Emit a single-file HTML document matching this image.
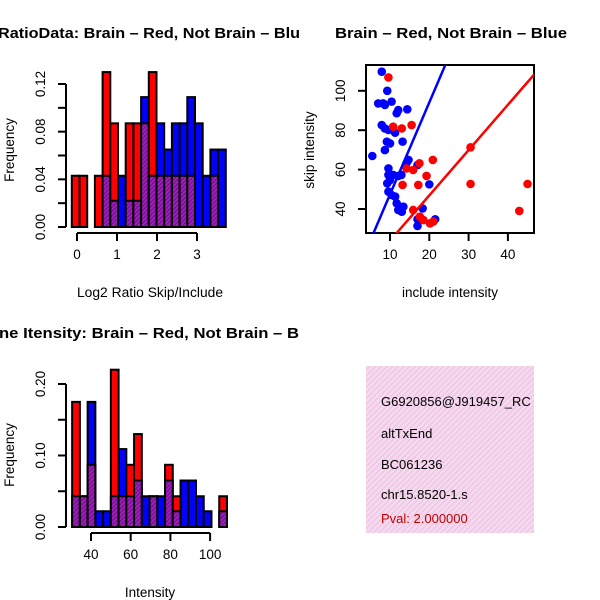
<!DOCTYPE html>
<html><head><meta charset="utf-8"><style>
html,body{margin:0;padding:0;background:#fff;}
svg{display:block;font-family:"Liberation Sans",sans-serif;}
</style></head><body>
<svg id="c" width="600" height="600" viewBox="0 0 600 600" xmlns="http://www.w3.org/2000/svg">
<defs>
<pattern id="hatch" width="3" height="3" patternUnits="userSpaceOnUse" patternTransform="rotate(45)">
<rect width="3" height="3" fill="#a020c0"/><rect width="1.4" height="3" fill="#7a1090"/>
</pattern>
<pattern id="pink" width="4" height="4" patternUnits="userSpaceOnUse" patternTransform="rotate(45)">
<rect width="4" height="4" fill="#f8d8f0"/><rect width="1.3" height="4" fill="#e8c8e0"/>
</pattern>
<clipPath id="scClip"><rect x="366" y="65" width="168" height="168"/></clipPath>
<clipPath id="pClip"><rect x="366" y="366" width="168" height="168"/></clipPath>
</defs>
<g id="g1"></g>
<g id="g2"></g>
<g id="g3"></g>
<g>
<rect x="366" y="366" width="168" height="167" fill="url(#pink)"/>
<g clip-path="url(#pClip)" font-size="13">
<text x="381" y="406">G6920856@J919457_RC</text>
<text x="381" y="438">altTxEnd</text>
<text x="381" y="469">BC061236</text>
<text x="381" y="499">chr15.8520-1.s</text>
<text x="381" y="523" fill="#c00000">Pval: 2.000000</text>
</g>
</g>
</svg>
<script>
// ---- Histogram 1: Log2 Ratio ----
const ratioBinStart = -0.13, ratioBinWidth = 0.1925;
const ratioRed  = [0.043,0.043,0,0.043,0.130,0.087,0,0.087,0.087,0.087,0.130,0.043,0.043,0.043,0.043,0.043,0,0,0.043,0];
const ratioBlue = [0,0,0,0,0.043,0.022,0.043,0.022,0.022,0.109,0.043,0.087,0.065,0.087,0.087,0.109,0.087,0.043,0.065,0.065];
const ratioYTicks = [0,0.02,0.04,0.06,0.08,0.10,0.12];
const ratioYLabels = ["0.00","","0.04","","0.08","","0.12"];
const ratioXTicks = [0,1,2,3];
// ---- Histogram 2: Intensity ----
const intBinStart = 30.5, intBinWidth = 3.9;
const intRed  = [0.175,0.043,0.087,0,0,0.22,0.043,0.087,0.13,0,0.043,0,0.087,0.043,0,0,0,0,0,0.043];
const intBlue = [0.043,0.043,0.175,0.022,0.022,0.043,0.109,0.043,0.065,0.043,0.043,0.043,0.065,0.022,0.065,0.065,0.043,0.022,0,0.022];
const intYTicks = [0,0.05,0.10,0.15,0.20];
const intYLabels = ["0.00","","0.10","","0.20"];
const intXTicks = [40,60,80,100];
// ---- Scatter ----
const blueX = [7.9,9.3,7.0,8.3,8.7,10.4,12.1,11.7,14.4,7.9,8.7,9.6,11.3,9.2,10,8.7,13.2,5.5,9.6,9.6,10,10.8,12.1,12.9,9.3,9.6,10.4,11.3,11.7,12.5,13.4,13,12.1,14.7,14.2,17,20,18.3,17,17,20.2,21.5];
const blueY = [109.7,100,93.6,93.6,92.8,94.5,90.2,88.6,90.6,82.6,80.9,80.1,78.7,74.2,73.3,69.9,74.2,66.9,60.6,57.3,54.7,57.3,56.8,57.3,53,48.8,47.1,46.3,42.9,41.2,41.2,38.6,39.5,64.9,63.2,62.3,52.5,40.3,34.8,31.4,32.7,34.8];
const redX = [9.6,10.8,13,15.5,14.2,15.9,17.5,20.9,19.3,13.2,17.2,30.5,30.5,45,42.9,15.9,17.6,18.5,20.2,21];
const redY = [106.8,81.8,80.9,82.6,60.6,59.8,63.2,64.9,56.8,52.2,52.2,71.3,52.7,52.7,39,39.5,36.1,34.4,32.7,33.6];
const blueFit = [0.7,4.67]; // intercept, slope
const redFit = [0.9,2.30];
const scXTicks = [10,20,30,40];
const scYTicks = [40,60,80,100];

const NS="http://www.w3.org/2000/svg";
function mk(parent,tag,attrs){const e=document.createElementNS(NS,tag);for(const k in attrs)e.setAttribute(k,attrs[k]);parent.appendChild(e);return e;}
function txt(parent,x,y,s,size,rot,anchor,weight,len){const t=mk(parent,'text',{x:x,y:y,'font-size':size,'text-anchor':anchor||'middle'});if(weight)t.setAttribute('font-weight',weight);if(len){t.setAttribute('textLength',len);t.setAttribute('lengthAdjust','spacingAndGlyphs');}if(rot)t.setAttribute('transform','rotate(-90 '+x+' '+y+')');t.textContent=s;return t;}

function hist(g,opt){
  const xs=v=>opt.x0px+(v-opt.x0)*opt.xk, ys=v=>opt.y0px-v*opt.yk;
  for(let i=0;i<opt.red.length;i++){
    const a=opt.binStart+i*opt.binW, b=a+opt.binW;
    const r=opt.red[i], bl=opt.blue[i];
    const x1=xs(a), w=xs(b)-xs(a);
    const mx=Math.max(r,bl), mn=Math.min(r,bl);
    if(mx<=0) continue;
    const top=mk(g,'rect',{x:x1,y:ys(mx),width:w,height:ys(0)-ys(mx),fill:r>bl?'#ff0000':'#0000ff',stroke:'#000','stroke-width':2});
    
    
    if(mn>0){
      const ov=mk(g,'rect',{x:x1,y:ys(mn),width:w,height:ys(0)-ys(mn),fill:'url(#hatch)',stroke:'#000','stroke-width':2});
      
      
    }
  }
  const ya=mk(g,'g',{});
  
  
  const yt=opt.yTicks;
  mk(ya,'line',{x1:opt.yAxisX,x2:opt.yAxisX,y1:ys(yt[0]),y2:ys(yt[yt.length-1]),stroke:'#000','stroke-width':2});
  yt.forEach((v,i)=>{mk(ya,'line',{x1:opt.yAxisX-8,x2:opt.yAxisX,y1:ys(v),y2:ys(v),stroke:'#000','stroke-width':2});
    if(opt.yLabels[i])txt(ya,opt.yAxisX-21,ys(v),opt.yLabels[i],13.5,true);});
  const xa=mk(g,'g',{});
  
  
  const xt=opt.xTicks;
  mk(xa,'line',{x1:xs(xt[0]),x2:xs(xt[xt.length-1]),y1:opt.xAxisY,y2:opt.xAxisY,stroke:'#000','stroke-width':2});
  xt.forEach(v=>{mk(xa,'line',{x1:xs(v),x2:xs(v),y1:opt.xAxisY,y2:opt.xAxisY+8,stroke:'#000','stroke-width':2});
    txt(xa,xs(v),opt.xAxisY+26,String(v),13.5);});
  const t=txt(g,opt.titleX,opt.titleY,opt.title,15,false,'start','bold',opt.titleLen);
  const xl=txt(g,150,opt.xLabelY,opt.xLabel,13.5,false,'middle',null,opt.xLabelLen);
  const yl=txt(g,14,opt.yLabelY,'Frequency',13.5,true);
}
hist(document.getElementById('g1'),{red:ratioRed,blue:ratioBlue,binStart:ratioBinStart,binW:ratioBinWidth,
  x0:0,x0px:77,xk:40,y0px:227,yk:143/0.12,yTicks:ratioYTicks,yLabels:ratioYLabels,xTicks:ratioXTicks,
  yAxisX:66,xAxisY:233,title:'RatioData: Brain \u2013 Red, Not Brain \u2013 Blu',titleX:-2,titleY:38,titleLen:302,
  xLabel:'Log2 Ratio Skip/Include',xLabelLen:146,xLabelY:297,yLabelY:150});
hist(document.getElementById('g3'),{red:intRed,blue:intBlue,binStart:intBinStart,binW:intBinWidth,
  x0:40,x0px:91,xk:1.985,y0px:527,yk:143/0.2,yTicks:intYTicks,yLabels:intYLabels,xTicks:intXTicks,
  yAxisX:66,xAxisY:533,title:'ne Itensity: Brain \u2013 Red, Not Brain \u2013 B',titleX:-1,titleY:338,titleLen:300,
  xLabel:'Intensity',xLabelLen:null,xLabelY:597,yLabelY:455});

// scatter
(function(){
  const g=document.getElementById('g2');
  const xs=v=>390+(v-10)*3.93, ys=v=>209-(v-40)*1.97;
  mk(g,'rect',{x:366,y:65,width:168,height:168,fill:'none',stroke:'#000','stroke-width':2});
  const cl=mk(g,'g',{'clip-path':'url(#scClip)'});
  blueX.forEach((x,i)=>{const c=mk(cl,'circle',{cx:xs(x),cy:ys(blueY[i]),r:4.3,fill:'#0000ff'});
    
    });
  redX.forEach((x,i)=>{const c=mk(cl,'circle',{cx:xs(x),cy:ys(redY[i]),r:4.3,fill:'#ff0000'});
    
    });
  [[blueFit,'#0000ff','fit-line-not-brain'],[redFit,'#ff0000','fit-line-brain']].forEach(([f,col,n])=>{
    const l=mk(cl,'line',{x1:xs(0),y1:ys(f[0]),x2:xs(60),y2:ys(f[0]+f[1]*60),stroke:col,'stroke-width':2.5});
    
    });
  const xa=mk(g,'g',{});
  
  
  scXTicks.forEach(v=>{mk(xa,'line',{x1:xs(v),x2:xs(v),y1:233,y2:241,stroke:'#000','stroke-width':2});txt(xa,xs(v),259,String(v),13.5);});
  const ya=mk(g,'g',{});
  
  
  scYTicks.forEach(v=>{mk(ya,'line',{x1:358,x2:366,y1:ys(v),y2:ys(v),stroke:'#000','stroke-width':2});txt(ya,345,ys(v),String(v),13.5,true);});
  const t=txt(g,335,38,'Brain \u2013 Red, Not Brain \u2013 Blue',15,false,'start','bold',232);
  const xl=txt(g,450,297,'include intensity',13.5);
  const yl=txt(g,314,150,'skip intensity',13.5,true);
})();
</script>
</body></html>
